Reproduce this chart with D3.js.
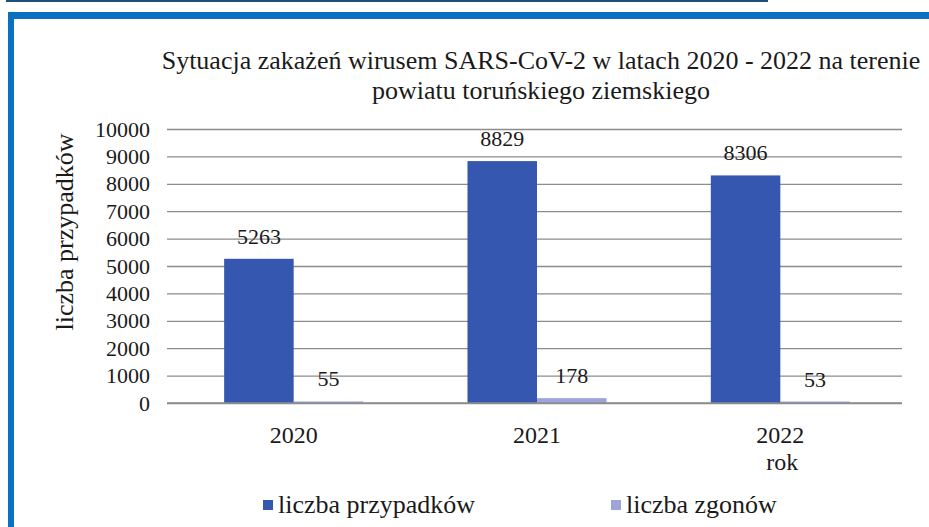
<!DOCTYPE html>
<html>
<head>
<meta charset="utf-8">
<script src="https://cdn.jsdelivr.net/npm/d3@7"></script>
<style>
  html, body { margin: 0; padding: 0; background: #fff; }
  svg text { font-family: 'Liberation Serif', 'Times New Roman', 'Liberation Sans', Arial, sans-serif; }
</style>
</head>
<body>
<svg id="chart" width="929" height="527"></svg>
<script>
// Data
const years = ["2020", "2021", "2022"];
const seriesNames = ["liczba przypadków", "liczba zgonów"];
const cases = [5263, 8829, 8306];
const deaths = [55, 178, 53];
const yTicks = [0, 1000, 2000, 3000, 4000, 5000, 6000, 7000, 8000, 9000, 10000];
const titleLines = [
  "Sytuacja zakażeń wirusem SARS-CoV-2 w latach 2020 - 2022 na terenie",
  "powiatu toruńskiego ziemskiego"
];

const colors = { "liczba przypadków": "#3657b0", "liczba zgonów": "#9da3db" };

const rows = years.map((y, i) => ({ year: y, values: [
  { key: seriesNames[0], value: cases[i] },
  { key: seriesNames[1], value: deaths[i] }
]}));

const svg = d3.select("#chart");
const W = 929, H = 527;
const INK = "#1a1a1a";

svg.append("rect").attr("width", W).attr("height", H).attr("fill", "#fff");

// page frame: thin rule above and blue box edges
svg.append("rect").attr("x", 6).attr("y", 0).attr("width", 762).attr("height", 2).attr("fill", "#1d4f7f");
svg.append("rect").attr("x", 8).attr("y", 12).attr("width", W - 8).attr("height", 7).attr("fill", "#0a70c2");
svg.append("rect").attr("x", 8).attr("y", 12).attr("width", 6).attr("height", H - 12).attr("fill", "#0a70c2");

// scales
const plot = { left: 172, right: 902, top: 129, bottom: 403 };
const y = d3.scaleLinear().domain([0, 10000]).range([plot.bottom, plot.top]);
const x0 = d3.scaleBand().domain(years).range([plot.left, plot.right]).paddingInner(0).paddingOuter(0);
const x1 = d3.scaleBand().domain(seriesNames).range([0, x0.bandwidth()]).paddingInner(0).paddingOuter(0.75);

// gridlines and value axis labels
const yAxis = d3.axisLeft(y).tickValues(yTicks).tickSize(-(plot.right - plot.left + 5)).tickFormat(d3.format("d"));
const gy = svg.append("g").attr("transform", `translate(${plot.left - 5},0)`).call(yAxis);
gy.attr("font-family", null);
gy.select(".domain").remove();
gy.selectAll(".tick line").attr("stroke", "#8c8c8c").attr("stroke-width", 1.3);
gy.selectAll(".tick text")
  .attr("x", -17)
  .attr("font-size", 22)
  .attr("fill", INK);

// bars
const groups = svg.append("g").selectAll("g").data(rows).join("g")
  .attr("transform", d => `translate(${x0(d.year)},0)`);

groups.selectAll("rect").data(d => d.values).join("rect")
  .attr("x", d => x1(d.key))
  .attr("width", x1.bandwidth())
  .attr("y", d => y(d.value))
  .attr("height", d => y(0) - y(d.value))
  .attr("fill", d => colors[d.key]);

groups.selectAll("text").data(d => d.values).join("text")
  .attr("x", d => x1(d.key) + x1.bandwidth() / 2)
  .attr("y", d => y(d.value) - 15)
  .attr("text-anchor", "middle")
  .attr("font-size", 22)
  .attr("fill", INK)
  .text(d => d.value);

// x axis baseline
svg.append("line")
  .attr("x1", plot.left - 5).attr("x2", plot.right)
  .attr("y1", y(0)).attr("y2", y(0))
  .attr("stroke", "#8c8c8c").attr("stroke-width", 1.3);

// category labels
const xAxis = d3.axisBottom(x0).tickSize(0).tickPadding(0);
const gx = svg.append("g").attr("transform", `translate(0,${plot.bottom})`).call(xAxis);
gx.attr("font-family", null);
gx.select(".domain").remove();
gx.selectAll(".tick text")
  .attr("dy", null)
  .attr("y", 40)
  .attr("font-size", 24)
  .attr("fill", INK);

// x axis title
svg.append("text")
  .attr("x", x0("2022") + x0.bandwidth() / 2 + 2)
  .attr("y", 470)
  .attr("text-anchor", "middle")
  .attr("font-size", 24)
  .attr("fill", INK)
  .text("rok");

// y axis title
svg.append("text")
  .attr("transform", `translate(73,232) rotate(-90)`)
  .attr("text-anchor", "middle")
  .attr("font-size", 26)
  .attr("fill", INK)
  .text("liczba przypadków");

// chart title
svg.append("g").selectAll("text").data(titleLines).join("text")
  .attr("x", 541)
  .attr("y", (d, i) => 69 + i * 30)
  .attr("text-anchor", "middle")
  .attr("font-size", 26)
  .attr("fill", INK)
  .text(d => d);

// legend
const legendPos = [263, 611];
const lg = svg.append("g").selectAll("g").data(seriesNames).join("g")
  .attr("transform", (d, i) => `translate(${legendPos[i]},500)`);
lg.append("rect").attr("width", 10).attr("height", 10).attr("fill", d => colors[d]);
lg.append("text").attr("x", 15).attr("y", 13)
  .attr("font-size", 26).attr("fill", INK).text(d => d);
</script>
</body>
</html>
